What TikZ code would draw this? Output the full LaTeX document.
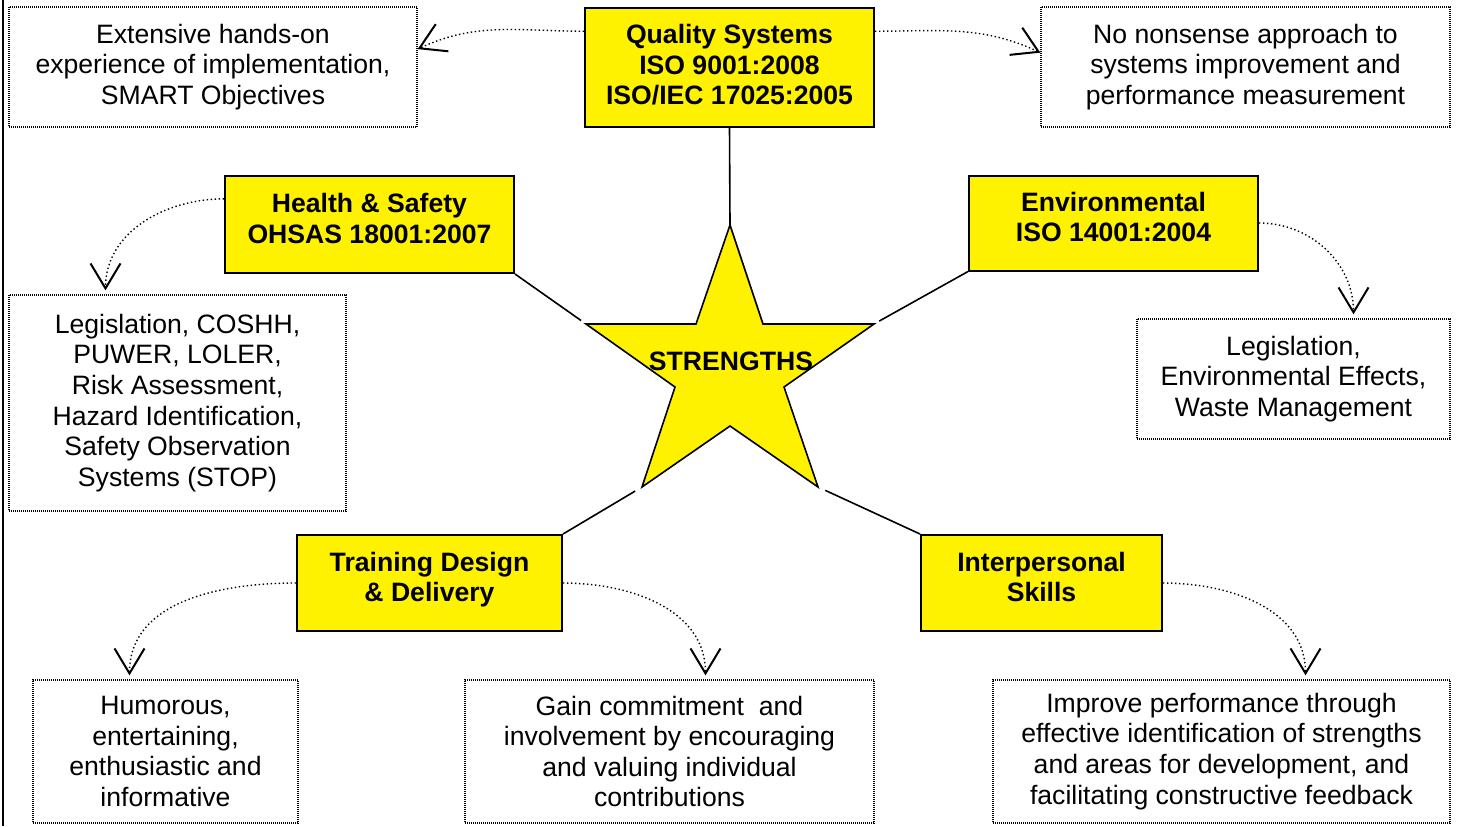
\documentclass[tikz,border=0pt]{standalone}
\usepackage{fontspec}
\setmainfont{Liberation Sans}
\usetikzlibrary{
    arrows.meta,
    calc,
    positioning
}
\tikzset{
    goal/.style={draw, fill=yellow, line width=1pt, font=\fontsize{13.3}{15.3}\selectfont\bfseries, align=center, inner sep=0pt, text depth=6pt},
    detail/.style={draw, line width=0.65pt, dash pattern=on 0.5pt off 0.5pt, align=center, inner sep=0pt},
    link/.style={-{Straight Barb[length=12.5pt, width=15pt, line width=1pt]}, line width=0.7pt, dash pattern=on 0.7pt off 1.3pt},
    spoke/.style={line width=0.8pt}
}

\begin{document}
\begin{tikzpicture}[x=0.5pt, y=-0.5pt, font=\fontsize{13.3}{15.3}\selectfont]
                        \useasboundingbox (0, 0) rectangle (1460, 826);
                        \draw[line width=1pt] (3, 0) -- (3, 826);

                        \node[goal, minimum width=144.5pt, minimum height=59.5pt, text depth=3pt] (quality) at (729.5, 67.5) {Quality Systems\\ISO 9001:2008\\ISO/IEC 17025:2005};
                        \node[detail, minimum width=204pt, minimum height=60pt] (practice) at (213, 67) {Extensive hands-on\\experience of implementation,\\SMART Objectives};
                        \node[detail, minimum width=204.5pt, minimum height=60pt] (approach) at (1245.5, 67) {No nonsense approach to\\systems improvement and\\performance measurement};

                        \node[goal, minimum width=144.5pt, minimum height=48.5pt] (safety) at (369.5, 224.5) {Health \& Safety\\OHSAS 18001:2007};
                        \node[detail, minimum width=168.5pt, minimum height=108pt] (safetyinfo) at (177.5, 403) {Legislation, COSHH,\\PUWER, LOLER,\\Risk Assessment,\\Hazard Identification,\\Safety Observation\\Systems (STOP)};

                        \node[goal, minimum width=144.5pt, minimum height=47.5pt] (environ) at (1113.5, 223) {Environmental\\ISO 14001:2004};
                        \node[detail, minimum width=156.5pt, minimum height=60pt] (environinfo) at (1293.5, 379) {Legislation,\\Environmental Effects,\\Waste Management};

                        \node[goal, minimum width=132.5pt, minimum height=48pt] (training) at (429.5, 583) {Training Design\\\& Delivery};
                        \node[detail, minimum width=132.5pt, minimum height=71.5pt] (style) at (165.5, 751.5) {Humorous,\\entertaining,\\enthusiastic and\\informative};
                        \node[detail, minimum width=204.5pt, minimum height=71.5pt] (commit) at (669.5, 751.5) {Gain commitment~ and\\involvement by encouraging\\and valuing individual\\contributions};

                        \node[goal, minimum width=120.5pt, minimum height=48pt] (people) at (1041.5, 583) {Interpersonal\\Skills};
                        \node[detail, minimum width=228.5pt, minimum height=71.5pt, text depth=3pt] (feedback) at (1221.5, 751.5) {Improve performance through\\effective identification of strengths\\and areas for development, and\\facilitating constructive feedback};

                        \draw[fill=yellow, line width=0.8pt, line join=miter]
                        (730, 225) coordinate (startop) -- (763, 324) -- (874, 324) coordinate (starright) -- (784, 387)
                        -- (818, 487) coordinate (starbr) -- (730, 426) -- (642, 487) coordinate (starbl) -- (675, 387)
                        -- (586, 324) coordinate (starleft) -- (696, 324) -- cycle;
                        \node[font=\fontsize{13.3}{15.3}\selectfont\bfseries] (strengths) at (731, 361) {STRENGTHS};

                        \draw[spoke] (quality.south) -- (startop);
                        \draw[spoke, shorten >=3pt] (safety.south east) -- (starleft);
                        \draw[spoke, shorten >=3pt] (environ.south west) -- (starright);
                        \draw[spoke, shorten >=4pt] (training.north east) -- (starbl);
                        \draw[spoke, shorten >=4pt] (people.north west) -- (starbr);

                        \draw
                        (quality.166) edge[link, out=180, in=25] (practice.5)
                        (quality.14) edge[link, out=0, in=155] (approach.176)
                        (safety.170) edge[link, out=180, in=90] ($(safetyinfo.north)+(-72, -4)$)
                        (environ.east) edge[link, out=0, in=90] ($(environinfo.north)+(60, -4)$)
                        (training.west) edge[link, out=180, in=90] ($(style.north)+(-36, -4)$)
                        (training.east) edge[link, out=0, in=90] ($(commit.north)+(36, -4)$)
                        (people.east) edge[link, out=0, in=90] ($(feedback.north)+(84, -4)$);
                    \end{tikzpicture}
\end{document}
